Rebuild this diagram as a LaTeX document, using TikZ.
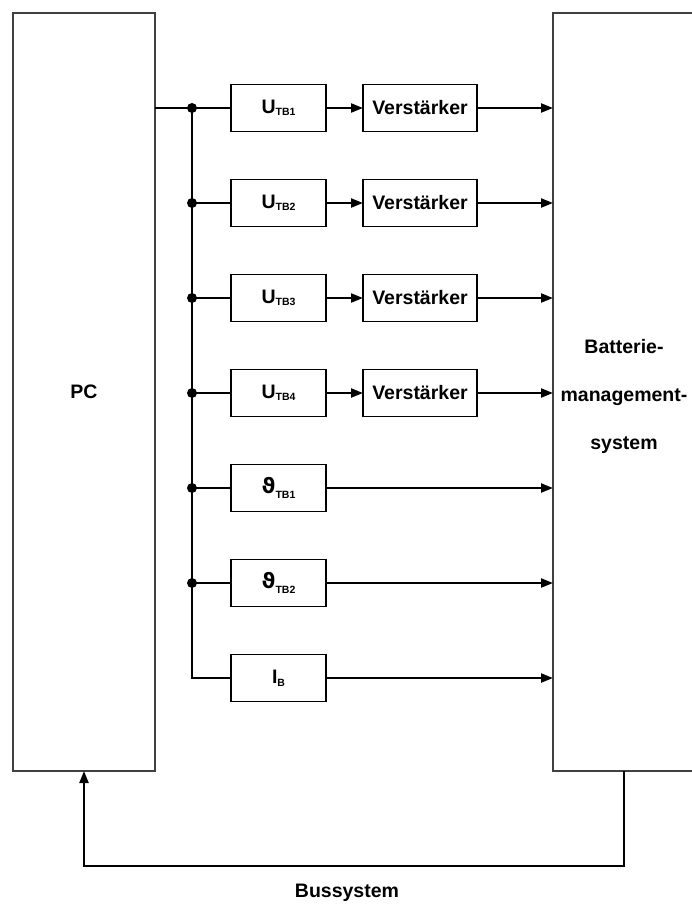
\documentclass[tikz,border=0pt]{standalone}
\usepackage{fontspec}
\setmainfont{Liberation Sans}
\newfontfamily\thetafont{DejaVu Sans}
\usetikzlibrary{
    positioning,
    arrows.meta
}
\tikzset{
    >={Triangle[length=12bp,width=9bp]},
    % Big units on both sides
    unit/.style={
        draw=black!75,
        line width=1.4bp,
        outer sep=0pt,
        inner sep=0pt,
        minimum width=142bp,
        minimum height=758bp
    },
    % Signal blocks
    block/.style={
        draw=black,
        line width=1.4bp,
        outer sep=0pt,
        inner sep=0pt,
        minimum width=95bp,
        minimum height=47bp
    },
    amp/.style={
        block,
        minimum width=114bp
    },
    wire/.style={
        line width=2.2bp
    },
    junction/.style={
        circle,
        fill=black,
        inner sep=0pt,
        minimum size=10bp
    }
}
% small index next to a symbol
\newcommand{\idx}[2][1.5bp]{\raisebox{-#1}{\fontsize{10.5bp}{11bp}\selectfont #2}}

\begin{document}
\begin{tikzpicture}[x=1bp, y=-1bp, font=\fontsize{19.5bp}{24bp}\selectfont\bfseries]

    \clip (0,0) rectangle (692,904);

    \node[unit] (pc) at (84,392) {PC};
    \node[unit] (bms) at (624,392) {};
    \node[align=center, font=\fontsize{19.5bp}{48bp}\selectfont\bfseries] (bmsName) at (624,396) {Batterie-\\management-\\system};

    \node[block] (u1) at (278.5,108) {U\idx{TB1}};
    \node[block, below=48bp of u1] (u2) {U\idx{TB2}};
    \node[block, below=48bp of u2] (u3) {U\idx{TB3}};
    \node[block, below=48bp of u3] (u4) {U\idx{TB4}};
    \node[block, below=48bp of u4] (t1) {{\thetafont\fontsize{21bp}{24bp}\selectfont ϑ}\idx[5bp]{TB1}};
    \node[block, below=48bp of t1] (t2) {{\thetafont\fontsize{21bp}{24bp}\selectfont ϑ}\idx[5bp]{TB2}};
    \node[block, below=48bp of t2] (ib) {I\idx[3bp]{B}};

    \node[amp, right=37bp of u1] (v1) {Verstärker};
    \node[amp, right=37bp of u2] (v2) {Verstärker};
    \node[amp, right=37bp of u3] (v3) {Verstärker};
    \node[amp, right=37bp of u4] (v4) {Verstärker};

    % distribution rail
    \coordinate (rail) at (192,108);
    \node[junction] (j1) at (rail |- u1) {};
    \node[junction] (j2) at (rail |- u2) {};
    \node[junction] (j3) at (rail |- u3) {};
    \node[junction] (j4) at (rail |- u4) {};
    \node[junction] (j5) at (rail |- t1) {};
    \node[junction] (j6) at (rail |- t2) {};

    \draw[wire] (pc.east |- u1) -- (u1.west);
    \draw[wire] (j1.center) -- (rail |- ib) -- (ib.west);
    \draw[wire] (j2.center) -- (u2.west);
    \draw[wire] (j3.center) -- (u3.west);
    \draw[wire] (j4.center) -- (u4.west);
    \draw[wire] (j5.center) -- (t1.west);
    \draw[wire] (j6.center) -- (t2.west);

    \draw[wire,->] (u1) -- (v1);
    \draw[wire,->] (u2) -- (v2);
    \draw[wire,->] (u3) -- (v3);
    \draw[wire,->] (u4) -- (v4);

    \draw[wire,->] (v1) -- (v1 -| bms.west);
    \draw[wire,->] (v2) -- (v2 -| bms.west);
    \draw[wire,->] (v3) -- (v3 -| bms.west);
    \draw[wire,->] (v4) -- (v4 -| bms.west);
    \draw[wire,->] (t1) -- (t1 -| bms.west);
    \draw[wire,->] (t2) -- (t2 -| bms.west);
    \draw[wire,->] (ib) -- (ib -| bms.west);

    % bus back to the PC
    \draw[wire,->] (bms.south) -- ++(0,95) -| (pc.south);
    \node (busName) at (347,893) {Bussystem};

\end{tikzpicture}
\end{document}
